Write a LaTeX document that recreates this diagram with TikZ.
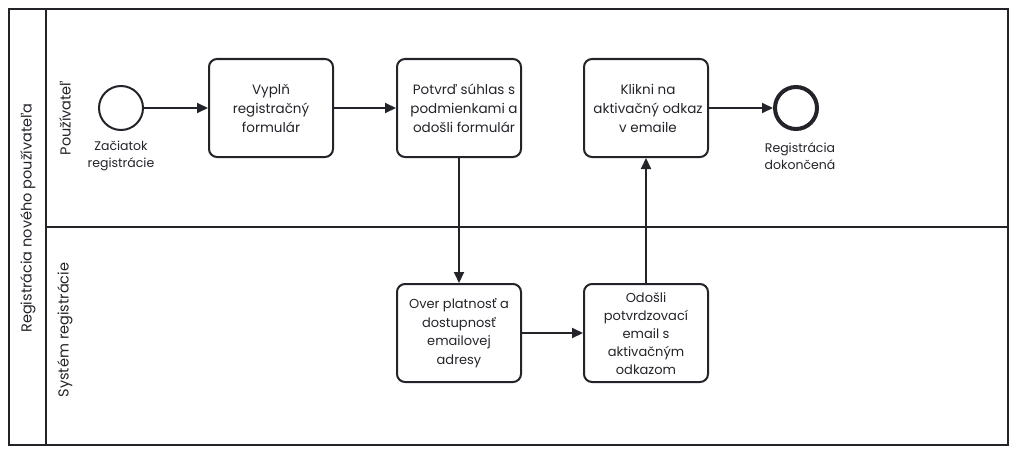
\documentclass[tikz,border=0pt]{standalone}
\usepackage{fontspec}
\setmainfont{Poppins}
\usetikzlibrary{arrows.meta}
\definecolor{bpmnline}{HTML}{22242A}
\begin{document}
\begin{tikzpicture}[x=1pt, y=-1pt, line width=2pt, draw=bpmnline, text=bpmnline,
  task/.style={draw=bpmnline, line width=2pt, rounded corners=8pt, minimum width=124pt, minimum height=98pt, inner sep=0pt},
  tasktext/.style={align=center, font=\fontsize{13.5}{19}\selectfont, inner sep=0pt},
  event/.style={circle, draw=bpmnline, minimum size=44pt, inner sep=0pt},
  evlabel/.style={align=center, font=\fontsize{12.5}{17}\selectfont, inner sep=0pt},
  lanelabel/.style={rotate=90, font=\fontsize{14.5}{17}\selectfont, inner sep=0pt},
  flow/.style={-{Triangle[length=11pt,width=10pt]}, draw=bpmnline, line width=2pt}]
\useasboundingbox (0,0) rectangle (1016,452);
% pool and lanes
\draw (9,9) rectangle (1008,445);
\draw (46,9) -- (46,445);
\draw (46,227) -- (1008,227);
\node[lanelabel] (pool) at (28,218) {Registrácia nového používateľa};
\node[lanelabel] (lane1) at (65,118) {Používateľ};
\node[lanelabel] (lane2) at (65,330) {Systém registrácie};
% events
\node[event] (start) at (121,108) {};
\node[evlabel] (startl) at (121,156) {Začiatok\\registrácie};
\node[event, line width=4pt, minimum size=42pt] (end) at (796,108) {};
\node[evlabel] (endl) at (800,156) {Registrácia\\dokončená};
% tasks
\node[task] (t1) at (271,108) {};
\node[tasktext] at (t1) {Vyplň\\registračný\\formulár};
\node[task] (t2) at (459,108) {};
\node[tasktext] at (464,108) {Potvrď súhlas s\\podmienkami a\\odošli formulár};
\node[task] (t3) at (646,108) {};
\node[tasktext] at (648,108) {Klikni na\\aktivačný odkaz\\v emaile};
\node[task] (t4) at (459,333) {};
\node[tasktext, font=\fontsize{13}{18.5}\selectfont] at (459,333) {Over platnosť a\\dostupnosť\\emailovej\\adresy};
\node[task] (t5) at (646,333) {};
\node[tasktext, font=\fontsize{13}{18}\selectfont] at (646,334) {Odošli\\potvrdzovací\\email s\\aktivačným\\odkazom};
% flows
\draw[flow] (start) -- (t1);
\draw[flow] (t1) -- (t2);
\draw[flow] (t3) -- (end);
\draw[flow] (t2) -- (t4);
\draw[flow] (t4) -- (t5);
\draw[flow] (t5) -- (t3);
\end{tikzpicture}
\end{document}
